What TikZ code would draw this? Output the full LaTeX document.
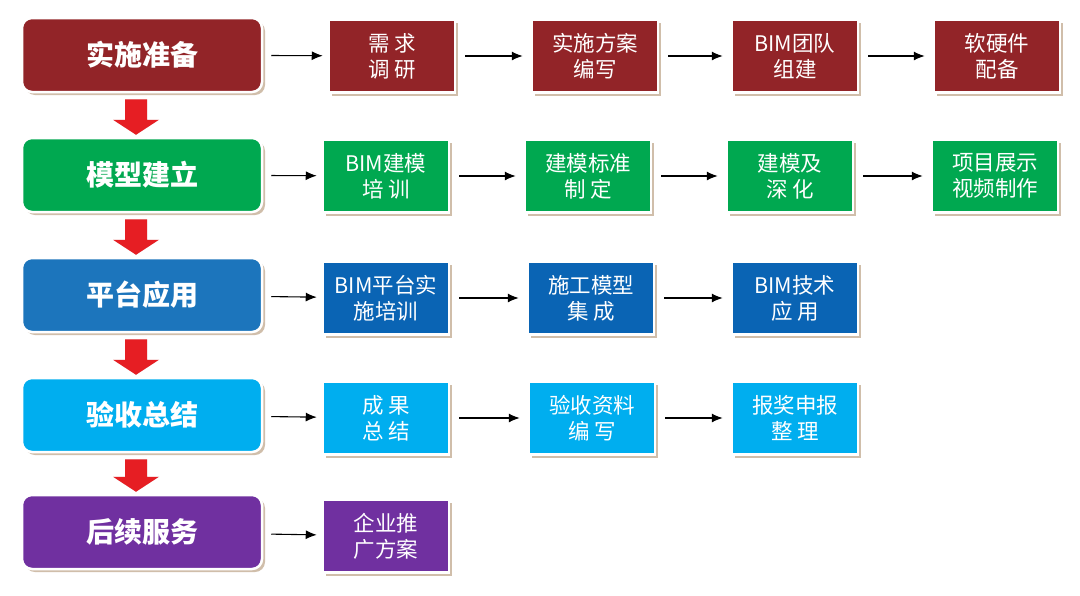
\documentclass[tikz,border=0pt]{standalone}
\usepackage{fontspec}
\setmainfont{Noto Sans CJK SC}
\usetikzlibrary{arrows.meta,shadows,calc}

\definecolor{prepred}{RGB}{146,36,40}
\definecolor{modelgreen}{RGB}{0,168,80}
\definecolor{platblue}{RGB}{28,117,188}
\definecolor{taskblue}{RGB}{10,100,180}
\definecolor{checkcyan}{RGB}{0,174,239}
\definecolor{servpurple}{RGB}{112,48,160}
\definecolor{boxshade}{RGB}{208,190,170}
\definecolor{flowred}{RGB}{230,30,35}

\tikzset{
	phase/.style={draw=white, line width=2.5pt, rounded corners=10pt,
		minimum width=240pt, minimum height=74pt, text=white,
		font=\fontsize{28}{30}\selectfont\bfseries,
		drop shadow={shadow xshift=3pt, shadow yshift=-3pt, fill=boxshade, opacity=1}},
	task/.style={draw=white, line width=2.5pt, minimum width=126pt, minimum height=73pt,
		text=white, align=center, font=\fontsize{21.5}{26}\selectfont,
		drop shadow={shadow xshift=3pt, shadow yshift=-3pt, fill=boxshade, opacity=1}},
	link/.style={-{Latex[length=11pt,width=9pt]}, black, line width=1.1pt}
}

\begin{document}
\begin{tikzpicture}[x=1pt,y=-1pt]
	\fill[white] (0,0) rectangle (1080,595);
	\useasboundingbox (0,0) rectangle (1080,595);
	% phases
	\node[phase, fill=prepred] (prep) at (142,55) {实施准备};
	\node[phase, fill=modelgreen] (model) at (142,175) {模型建立};
	\node[phase, fill=platblue] (plat) at (142,295) {平台应用};
	\node[phase, fill=checkcyan] (check) at (142,415) {验收总结};
	\node[phase, fill=servpurple] (serv) at (142,532) {后续服务};
	% tasks
	\begin{scope}[task/.append style={fill=prepred}]
		\node[task] (prepA) at (392,56) {需 求\\调 研};
		\node[task] (prepB) at (595,56) {实施方案\\编写};
		\node[task] (prepC) at (795,56) {BIM团队\\组建};
		\node[task] (prepD) at (997,56) {软硬件\\配备};
	\end{scope}
	\begin{scope}[task/.append style={fill=modelgreen}]
		\node[task] (modelA) at (386,176) {BIM建模\\培 训};
		\node[task] (modelB) at (588,176) {建模标准\\制 定};
		\node[task] (modelC) at (790,176) {建模及\\深 化};
		\node[task] (modelD) at (995,176) {项目展示\\视频制作};
	\end{scope}
	\begin{scope}[task/.append style={fill=taskblue}]
		\node[task] (platA) at (386,298) {BIM平台实\\施培训};
		\node[task] (platB) at (591,298) {施工模型\\集 成};
		\node[task] (platC) at (795,298) {BIM技术\\应 用};
	\end{scope}
	\begin{scope}[task/.append style={fill=checkcyan}]
		\node[task] (checkA) at (386,418) {成 果\\总 结};
		\node[task] (checkB) at (592,418) {验收资料\\编 写};
		\node[task] (checkC) at (795,418) {报奖申报\\整 理};
	\end{scope}
	\begin{scope}[task/.append style={fill=servpurple}]
		\node[task] (servA) at (386,536) {企业推\\广方案};
	\end{scope}
	% connectors
	\foreach \a/\b in {prep/prepA, model/modelA, plat/platA, check/checkA, serv/servA}
		\draw[link, shorten <=8pt, shorten >=5pt] (\a) -- (\b);
	\foreach \a/\b in {prepA/prepB, prepB/prepC, prepC/prepD, modelA/modelB, modelB/modelC,
		modelC/modelD, platA/platB, platB/platC, checkA/checkB, checkB/checkC}
		\draw[link, shorten <=9pt, shorten >=8pt] (\a) -- (\b);
	% flow arrows
	\foreach \a/\b in {prep/model, model/plat, plat/check, check/serv}{
		\coordinate (t) at ($(\a.south)+(-6,6)$);
		\coordinate (h) at ($(\b.north)+(-6,-2)$);
		\fill[gray!22, shift={(-5,-1)}] ($(t)+(-11,0)$) -- ($(t)+(11,0)$) -- ($(h)+(11,-15)$)
			-- ($(h)+(23,-15)$) -- (h) -- ($(h)+(-23,-15)$) -- ($(h)+(-11,-15)$) -- cycle;
		\fill[flowred] ($(t)+(-11,0)$) -- ($(t)+(11,0)$) -- ($(h)+(11,-15)$)
			-- ($(h)+(23,-15)$) -- (h) -- ($(h)+(-23,-15)$) -- ($(h)+(-11,-15)$) -- cycle;
	}
\end{tikzpicture}
\end{document}
